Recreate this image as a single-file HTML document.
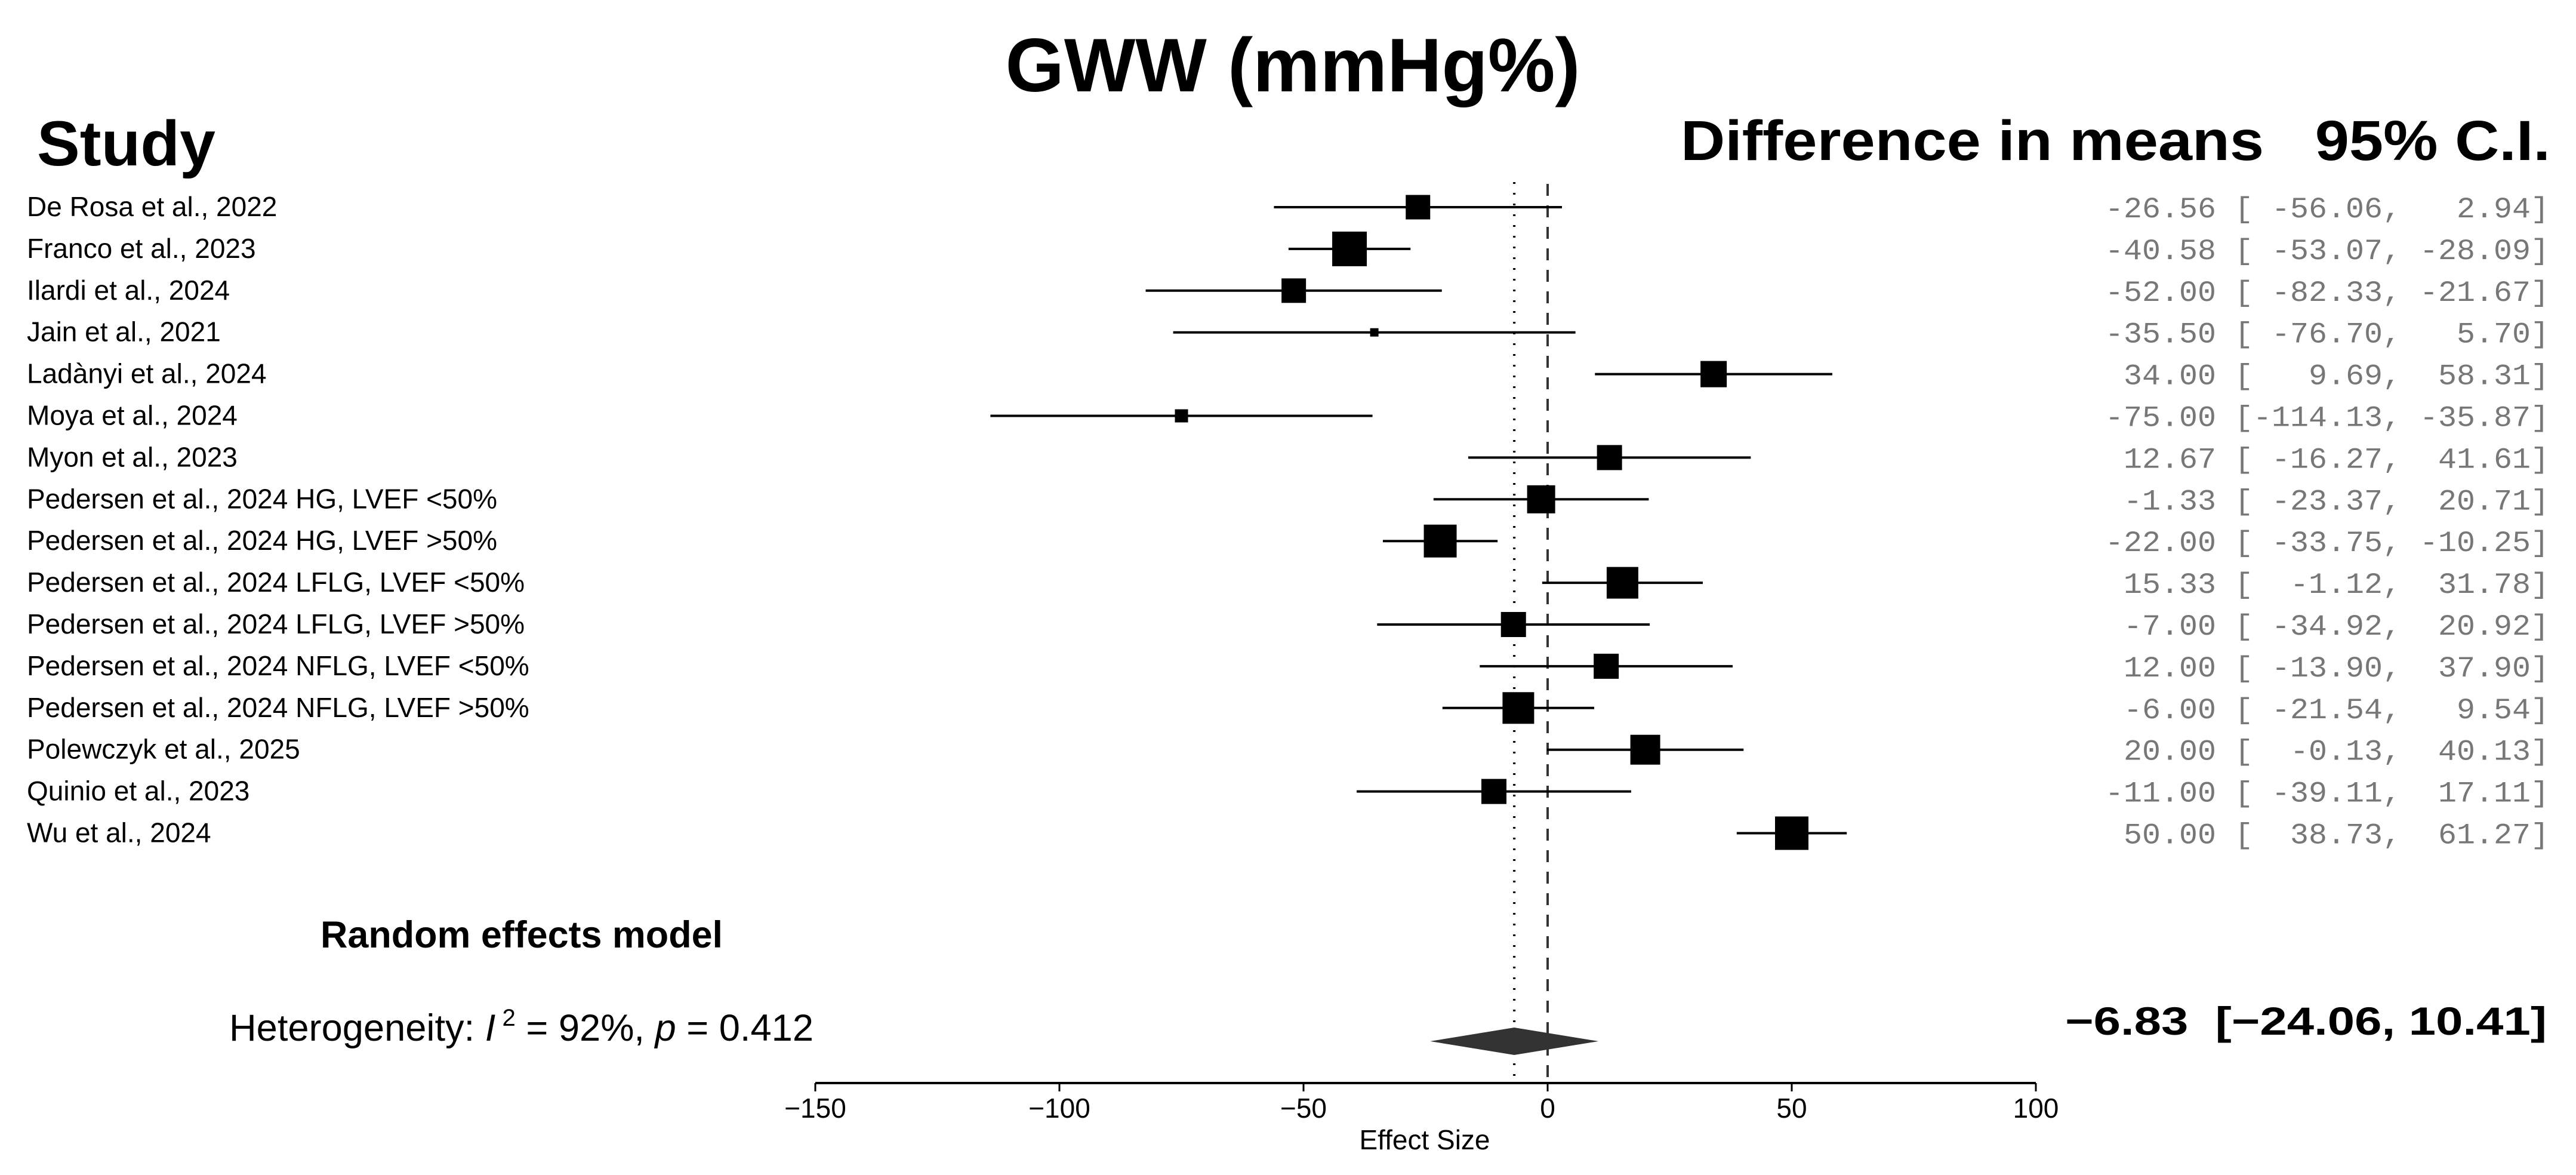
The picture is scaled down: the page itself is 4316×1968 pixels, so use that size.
<!DOCTYPE html>
<html><head><meta charset="utf-8"><style>
html,body{margin:0;padding:0;background:#fff;}
svg{display:block;}
text{font-family:"Liberation Sans",Arial,sans-serif;white-space:pre;}
.mono{font-family:"Liberation Mono",monospace;fill:#777;font-size:49px;white-space:pre;}
</style></head><body>
<svg id="chart" width="4316" height="1968" viewBox="0 0 4316 1968" xmlns="http://www.w3.org/2000/svg">
<text x="2166" y="153" font-size="127" font-weight="bold" text-anchor="middle" textLength="963" lengthAdjust="spacingAndGlyphs">GWW (mmHg%)</text>
<text x="62" y="277" font-size="107" font-weight="bold" textLength="299" lengthAdjust="spacingAndGlyphs">Study</text>
<text x="2816" y="268" font-size="95" font-weight="bold" textLength="1457" lengthAdjust="spacingAndGlyphs">Difference in means   95% C.I.</text>
<g id="rows"></g>
<g id="marks"></g>
<text x="537" y="1587" font-size="63" font-weight="bold" textLength="674" lengthAdjust="spacingAndGlyphs">Random effects model</text>
<text x="384" y="1743" font-size="63" textLength="979" lengthAdjust="spacingAndGlyphs">Heterogeneity: <tspan font-style="italic">I</tspan><tspan font-size="40" dy="-25"> 2</tspan><tspan dy="25"> = 92%, </tspan><tspan font-style="italic">p</tspan> = 0.412</text>
<text id="summary-text" x="4267" y="1733" font-size="66" font-weight="bold" text-anchor="end" textLength="807" lengthAdjust="spacingAndGlyphs"></text>
<g id="axis"></g>
<text x="2387" y="1925" font-size="46" text-anchor="middle">Effect Size</text>
</svg>
<script>
const studies = ["De Rosa et al., 2022","Franco et al., 2023","Ilardi et al., 2024","Jain et al., 2021","Ladànyi et al., 2024","Moya et al., 2024","Myon et al., 2023","Pedersen et al., 2024 HG, LVEF <50%","Pedersen et al., 2024 HG, LVEF >50%","Pedersen et al., 2024 LFLG, LVEF <50%","Pedersen et al., 2024 LFLG, LVEF >50%","Pedersen et al., 2024 NFLG, LVEF <50%","Pedersen et al., 2024 NFLG, LVEF >50%","Polewczyk et al., 2025","Quinio et al., 2023","Wu et al., 2024"];
const means = [-26.56,-40.58,-52.00,-35.50,34.00,-75.00,12.67,-1.33,-22.00,15.33,-7.00,12.00,-6.00,20.00,-11.00,50.00];
const lower = [-56.06,-53.07,-82.33,-76.70,9.69,-114.13,-16.27,-23.37,-33.75,-1.12,-34.92,-13.90,-21.54,-0.13,-39.11,38.73];
const upper = [2.94,-28.09,-21.67,5.70,58.31,-35.87,41.61,20.71,-10.25,31.78,20.92,37.90,9.54,40.13,17.11,61.27];
const weights = [41,58,41,14,44,22,42,47,55,53,42,42,53,50,42,56];
const summary = [-6.83,-24.06,10.41];
const ticks = [-150,-100,-50,0,50,100];

const NS="http://www.w3.org/2000/svg";
const X0=1366, X1=3411, XMIN=-150, XMAX=100;
function xs(v){return X0+(v-XMIN)/(XMAX-XMIN)*(X1-X0);}
const ROW0=347, ROWH=69.9;
function ys(i){return ROW0+i*ROWH;}
function mk(tag,attrs,parent){const e=document.createElementNS(NS,tag);for(const k in attrs)e.setAttribute(k,attrs[k]);parent.appendChild(e);return e;}
function f(v){return v.toFixed(2);}
function pad(s,n){while(s.length<n)s=" "+s;return s;}
const rows=document.getElementById('rows'), marks=document.getElementById('marks'), axis=document.getElementById('axis');
const AXY=1814;
let l=mk('line',{x1:xs(summary[0]),x2:xs(summary[0]),y1:305,y2:AXY,stroke:'#000','stroke-width':4,'stroke-dasharray':'3,15'},marks);


l=mk('line',{x1:xs(0),x2:xs(0),y1:308,y2:AXY,stroke:'#333','stroke-width':4,'stroke-dasharray':'20,16'},marks);


studies.forEach((s,i)=>{
  const y=ys(i);
  let t=mk('text',{x:45,y:y+15,'font-size':46},rows);t.textContent=s;
  
  
  let c=mk('text',{x:4271,y:y+17,'text-anchor':'end',class:'mono',textLength:744,lengthAdjust:'spacingAndGlyphs'},rows);
  c.textContent=pad(f(means[i]),6)+" ["+pad(f(lower[i]),7)+", "+pad(f(upper[i]),6)+"]";
  
  
  let ln=mk('line',{x1:xs(lower[i]),x2:xs(upper[i]),y1:y,y2:y,stroke:'#000','stroke-width':4},marks);
  
  
  const w=weights[i];
  let r=mk('rect',{x:xs(means[i])-w/2,y:y-w/2,width:w,height:w,fill:'#000'},marks);
  
  
});
const DY=1744, DH=23;
let d=mk('polygon',{points:`${xs(summary[1])},${DY} ${xs(summary[0])},${DY-DH} ${xs(summary[2])},${DY} ${xs(summary[0])},${DY+DH}`,fill:'#333'},marks);


const st=document.getElementById('summary-text');
st.textContent=summary[0].toFixed(2).replace('-','\u2212')+"  ["+summary[1].toFixed(2).replace('-','\u2212')+", "+summary[2].toFixed(2).replace('-','\u2212')+"]";
let al=mk('line',{x1:xs(XMIN),x2:xs(XMAX),y1:AXY,y2:AXY,stroke:'#000','stroke-width':4},axis);


ticks.forEach(v=>{
  let tk=mk('line',{x1:xs(v),x2:xs(v),y1:AXY,y2:AXY+14,stroke:'#000','stroke-width':3},axis);
  
  
  let tl=mk('text',{x:xs(v),y:AXY+58,'font-size':46,'text-anchor':'middle'},axis);
  tl.textContent=(v<0?'\u2212':'')+Math.abs(v);
  
  
});
</script>
</body></html>
